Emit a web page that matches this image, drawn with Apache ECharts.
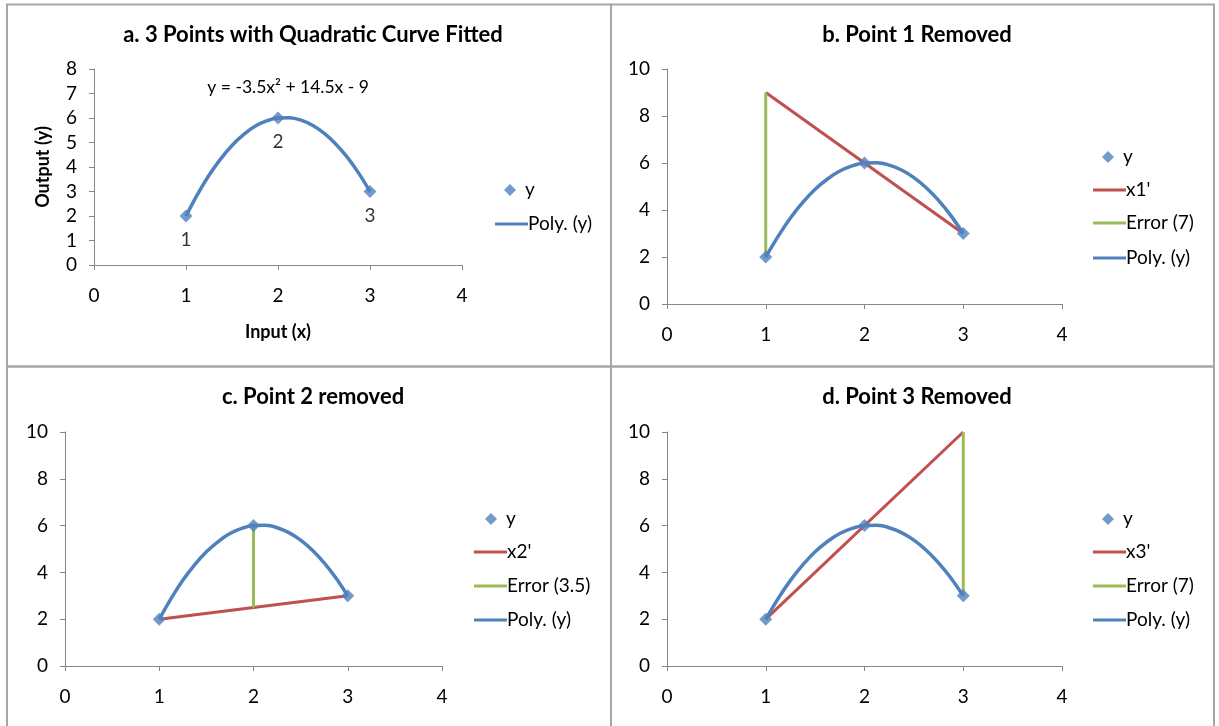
<!DOCTYPE html>
<html><head><meta charset="utf-8">
<script src="https://cdn.jsdelivr.net/npm/echarts@6/dist/echarts.min.js"></script>
<style>html,body{margin:0;padding:0;background:#fff}#c{width:1219px;height:726px}</style>
</head><body><div id="c"></div>
<script>
// ---- data ----
var titles = ['a. 3 Points with Quadratic Curve Fitted', 'b. Point 1 Removed', 'c. Point 2 removed', 'd. Point 3 Removed'];
var pointsX = [1, 2, 3];
var pointsY = [2, 6, 3];
var pointLabels = ['1', '2', '3'];
var equationText = 'y = -3.5x² + 14.5x - 9';
var equationAt = [2.11, 7.27];
// fitted trendline values
var polyX = [1, 1.125, 1.25, 1.375, 1.5, 1.625, 1.75, 1.875, 2, 2.125, 2.25, 2.375, 2.5, 2.625, 2.75, 2.875, 3];
var polyY = [2, 2.88, 3.66, 4.32, 4.88, 5.32, 5.66, 5.88, 6, 6.01, 5.91, 5.70, 5.38, 4.95, 4.41, 3.76, 3];
var lineB = [[1, 9], [3, 3]];
var errB = [[1, 2], [1, 9]];
var lineC = [[1, 2], [3, 3]];
var errC = [[2, 2.5], [2, 6]];
var lineD = [[1, 2], [3, 10]];
var errD = [[3, 3], [3, 10]];
var namesRed = ["x1'", "x2'", "x3'"];
var namesGreen = ['Error (7)', 'Error (3.5)', 'Error (7)'];
var yMaxA = 8, yStepA = 1, yMaxB = 10, yStepB = 2, xMax = 4, xStep = 1;

// ---- style ----
var BLUE = '#4F81BD', RED = '#C0504D', GREEN = '#9BBB59', AX = '#868686';
var FONT = 'Lato';
var FS = 19;
var chart = echarts.init(document.getElementById('c'));

var grids = [
  {left: 94, right: 757, top: 69, bottom: 461},
  {left: 667, right: 157, top: 69, bottom: 422},
  {left: 65, right: 777, top: 432, bottom: 60},
  {left: 667, right: 157, top: 432, bottom: 60}
];
var titlePos = [[308, 19], [912, 19], [308, 381], [912, 381]];

function xAx(i) {
  var o = {type: 'value', gridIndex: i, min: 0, max: xMax, interval: xStep,
    axisLine: {show: true, lineStyle: {color: AX}}, axisTick: {show: true, length: 5, lineStyle: {color: AX}},
    splitLine: {show: false},
    axisLabel: {color: '#000', fontFamily: FONT, fontSize: FS, margin: 21}};
  if (i === 0) { o.name = 'Input (x)'; o.nameLocation = 'middle'; o.nameGap = 58;
    o.nameTextStyle = {fontFamily: FONT, fontWeight: 'bold', fontSize: 18, color: '#000'}; }
  return o;
}
function yAx(i) {
  var o = {type: 'value', gridIndex: i, min: 0, max: i === 0 ? yMaxA : yMaxB, interval: i === 0 ? yStepA : yStepB,
    axisLine: {show: true, lineStyle: {color: AX}}, axisTick: {show: true, length: 5, lineStyle: {color: AX}},
    splitLine: {show: false},
    axisLabel: {color: '#000', fontFamily: FONT, fontSize: FS, margin: 17}};
  if (i === 0) { o.name = 'Output (y)'; o.nameLocation = 'middle'; o.nameGap = 42;
    o.nameTextStyle = {fontFamily: FONT, fontWeight: 'bold', fontSize: 18, color: '#000'}; }
  return o;
}

function pts(xs, ys) { return xs.map(function (x, k) { return [x, ys[k]]; }); }

var series = [];
for (var i = 0; i < 4; i++) {
  if (i > 0) {
    series.push({type: 'line', name: namesRed[i - 1], xAxisIndex: i, yAxisIndex: i, data: [lineB, lineC, lineD][i - 1],
      showSymbol: false, symbol: 'none', lineStyle: {color: RED, width: 3}, itemStyle: {color: RED}, z: 3, animation: false});
    series.push({type: 'line', name: namesGreen[i - 1], xAxisIndex: i, yAxisIndex: i, data: [errB, errC, errD][i - 1],
      showSymbol: false, symbol: 'none', lineStyle: {color: GREEN, width: 3}, itemStyle: {color: GREEN}, z: 3, animation: false});
  }
  var poly = {type: 'line', name: 'Poly. (y)', xAxisIndex: i, yAxisIndex: i, data: pts(polyX, polyY), smooth: 0.3,
    showSymbol: false, symbol: 'none', lineStyle: {color: BLUE, width: 3.5}, itemStyle: {color: BLUE}, z: 4, animation: false};
  if (i === 0) {
    poly.markPoint = {symbol: 'circle', symbolSize: 0, animation: false,
      label: {show: true, position: 'inside', formatter: equationText, color: '#000', fontFamily: FONT, fontSize: 17.5},
      data: [{coord: equationAt}]};
  }
  series.push(poly);
  series.push({type: 'scatter', name: 'y', xAxisIndex: i, yAxisIndex: i,
    data: pts(pointsX, pointsY).map(function (p, k) { return {value: p, name: pointLabels[k]}; }),
    symbol: 'diamond', symbolSize: 13, itemStyle: {color: BLUE}, z: 5, animation: false,
    label: {show: i === 0, position: 'bottom', distance: 8, formatter: '{b}', color: '#000', fontFamily: FONT, fontSize: FS}});
}

// legends, one per item
var legendSpec = [
  {dx: 504, dy: 190, lx: 495, items: [['Poly. (y)', 224]]},
  {dx: 1102, dy: 157, lx: 1093, items: [[namesRed[0], 190], [namesGreen[0], 223], ['Poly. (y)', 258]]},
  {dx: 485, dy: 519, lx: 474, items: [[namesRed[1], 552], [namesGreen[1], 586], ['Poly. (y)', 620]]},
  {dx: 1102, dy: 519, lx: 1093, items: [[namesRed[2], 552], [namesGreen[2], 586], ['Poly. (y)', 620]]}
];
var legends = [];
legendSpec.forEach(function (s) {
  legends.push({data: [{name: 'y', icon: 'diamond'}], left: s.dx, top: s.dy - 10, padding: 0, itemWidth: 12, itemHeight: 12,
    selectedMode: false, textStyle: {fontFamily: FONT, fontSize: FS, color: '#000', lineHeight: 20, padding: [0, 0, 0, 4]}});
  s.items.forEach(function (it) {
    legends.push({data: [{name: it[0], icon: 'rect'}], left: s.lx, top: it[1] - 10, padding: 0, itemWidth: 33, itemHeight: 3,
      selectedMode: false, textStyle: {fontFamily: FONT, fontSize: FS, color: '#000', lineHeight: 20, padding: [0, 0, 0, -5]}});
  });
});

var graphics = [
  {type: 'rect', shape: {x: 7, y: 4.5, width: 604, height: 362}, style: {fill: 'none', stroke: '#A6A6A6', lineWidth: 2}, silent: true},
  {type: 'rect', shape: {x: 611, y: 4.5, width: 603, height: 362}, style: {fill: 'none', stroke: '#A6A6A6', lineWidth: 2}, silent: true},
  {type: 'rect', shape: {x: 7, y: 366.5, width: 604, height: 362}, style: {fill: 'none', stroke: '#A6A6A6', lineWidth: 2}, silent: true},
  {type: 'rect', shape: {x: 611, y: 366.5, width: 603, height: 362}, style: {fill: 'none', stroke: '#A6A6A6', lineWidth: 2}, silent: true}
];

chart.setOption({
  backgroundColor: '#fff',
  animation: false,
  title: titles.map(function (t, k) {
    return {text: t, left: titlePos[k][0], top: titlePos[k][1], textAlign: 'center',
      textStyle: {fontFamily: FONT, fontWeight: 'bold', fontSize: 22, color: '#000'}};
  }),
  grid: grids,
  xAxis: [0, 1, 2, 3].map(xAx),
  yAxis: [0, 1, 2, 3].map(yAx),
  legend: legends,
  series: series,
  graphic: graphics
});
</script></body></html>
